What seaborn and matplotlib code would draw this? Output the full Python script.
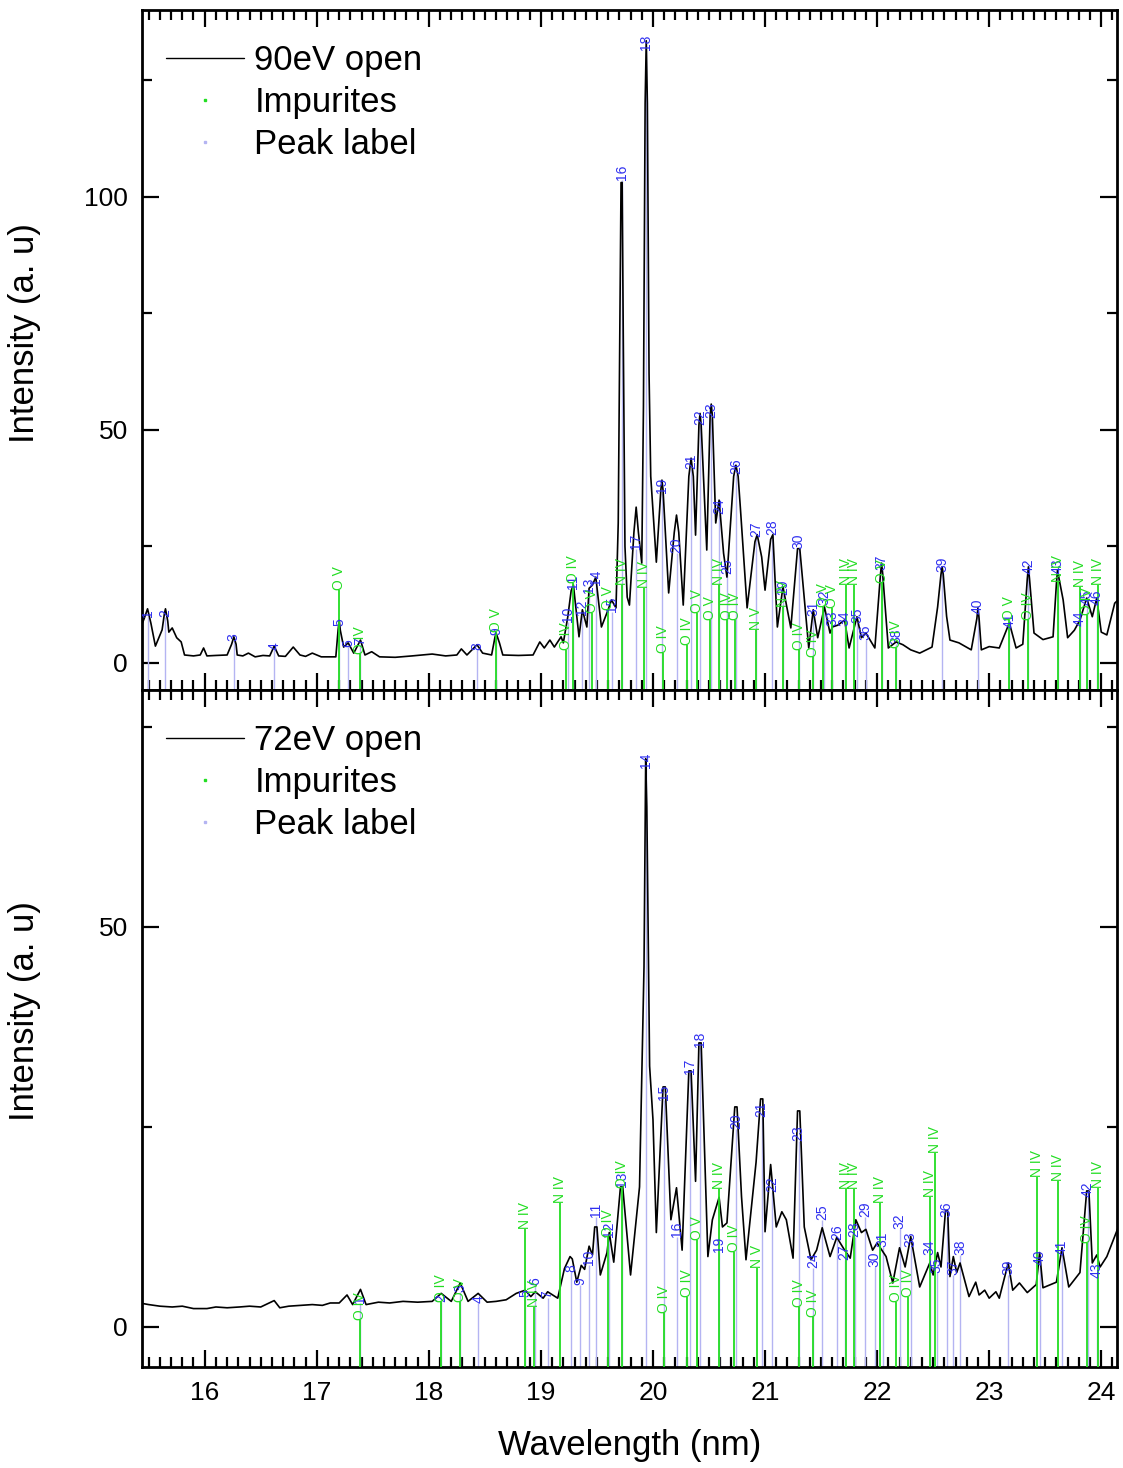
import numpy as np
import pandas as pd
import matplotlib
matplotlib.use("Agg")
import matplotlib.pyplot as plt
import seaborn as sns
from matplotlib.lines import Line2D
from matplotlib.ticker import MultipleLocator

# ---------------- data: 90 eV spectrum (top) ----------------
top_wl = [15.42, 15.46, 15.49, 15.52, 15.56, 15.62, 15.64, 15.65, 15.67, 15.68, 15.71, 15.75, 15.79, 15.82,
          15.90, 15.96, 15.99, 16.02, 16.10, 16.20, 16.24, 16.26, 16.28, 16.29, 16.34, 16.39, 16.45,
          16.52, 16.58, 16.62, 16.66, 16.72, 16.79, 16.85, 16.90, 16.96, 17.04, 17.17, 17.19, 17.20,
          17.21, 17.24, 17.28, 17.33, 17.39, 17.43, 17.49, 17.56, 17.70, 17.85, 18.03, 18.15, 18.25,
          18.29, 18.34, 18.43, 18.48, 18.56, 18.59, 18.60, 18.63, 18.66, 18.80, 18.93, 18.99, 19.03,
          19.08, 19.12, 19.18, 19.20, 19.24, 19.27, 19.29, 19.34, 19.37, 19.41, 19.43, 19.46, 19.49,
          19.54, 19.60, 19.63, 19.67, 19.69, 19.705, 19.715, 19.725, 19.735, 19.75, 19.77, 19.79, 19.83,
          19.85, 19.87, 19.90, 19.915, 19.93, 19.94, 19.95, 19.965, 19.98, 20.03, 20.07, 20.08, 20.09,
          20.14, 20.19, 20.21, 20.23, 20.27, 20.32, 20.34, 20.36, 20.38, 20.41, 20.42, 20.43, 20.48,
          20.51, 20.52, 20.53, 20.56, 20.59, 20.63, 20.66, 20.72, 20.74, 20.76, 20.78, 20.84, 20.91,
          20.93, 20.97, 21.00, 21.05, 21.07, 21.11, 21.16, 21.23, 21.29, 21.31, 21.39, 21.43, 21.47,
          21.53, 21.58, 21.60, 21.65, 21.71, 21.75, 21.82, 21.86, 21.90, 21.98, 22.03, 22.04, 22.05,
          22.10, 22.17, 22.23, 22.30, 22.38, 22.49, 22.54, 22.57, 22.58, 22.59, 22.62, 22.65, 22.73,
          22.84, 22.89, 22.90, 22.91, 22.93, 23.00, 23.09, 23.18, 23.24, 23.30, 23.34, 23.35, 23.36,
          23.40, 23.48, 23.57, 23.60, 23.61, 23.62, 23.66, 23.70, 23.76, 23.81, 23.87, 23.92, 23.96,
          24.00, 24.05, 24.12, 24.15]
top_int = [7.1, 9.5, 11.6, 8.5, 3.6, 7.1, 10.5, 11.6, 9.0, 6.6, 7.5, 5.4, 4.5, 1.7,
           1.5, 1.7, 3.2, 1.5, 1.6, 1.7, 4.0, 5.6, 4.0, 1.7, 1.5, 2.1, 1.3,
           1.6, 1.5, 3.6, 1.5, 1.4, 3.4, 1.7, 1.4, 2.1, 1.3, 1.3, 7.0, 9.2,
           7.0, 3.4, 4.3, 2.1, 4.9, 1.7, 2.4, 1.3, 1.2, 1.5, 1.9, 1.5, 1.7,
           3.0, 1.7, 3.9, 2.1, 1.7, 5.5, 6.4, 4.3, 1.7, 1.6, 1.7, 4.5, 3.2,
           4.9, 3.4, 5.6, 4.3, 9.9, 15.5, 16.7, 5.6, 11.4, 7.7, 16.0, 16.7, 18.4,
           7.7, 11.4, 13.5, 11.8, 30.0, 75.0, 103.0, 103.0, 70.0, 25.0, 14.1, 12.4, 28.0,
           33.4, 28.0, 21.4, 55.0, 120.0, 133.4, 120.0, 62.0, 40.0, 21.6, 37.0, 39.2, 37.0,
           15.0, 28.0, 31.7, 28.0, 12.4, 40.0, 43.9, 40.0, 27.4, 51.0, 53.5, 51.0, 24.2,
           53.0, 55.5, 53.0, 30.0, 34.9, 23.5, 18.4, 40.0, 42.4, 40.0, 33.2, 11.8, 26.0,
           27.5, 22.7, 15.6, 26.5, 27.5, 7.7, 16.3, 7.5, 24.5, 24.5, 3.2, 11.4, 5.4,
           12.0, 6.4, 7.7, 8.1, 9.2, 3.2, 9.9, 5.4, 6.4, 3.2, 19.0, 21.4, 19.0,
           3.2, 4.5, 3.9, 2.8, 2.1, 3.4, 12.0, 19.0, 20.6, 19.0, 10.0, 4.9, 4.3,
           2.8, 9.5, 11.8, 9.5, 2.8, 3.5, 3.2, 8.6, 3.2, 4.0, 18.0, 20.6, 18.0,
           6.4, 5.0, 5.6, 17.0, 20.0, 18.5, 13.5, 5.4, 7.0, 9.2, 13.9, 9.9, 13.9,
           6.6, 6.0, 12.8, 13.5]

top_peak_num = list(range(1, 47))
top_peak_wl = [15.49, 15.65, 16.26, 16.62, 17.20, 17.28, 17.39, 18.43, 18.60, 19.24, 19.29, 19.37,
               19.43, 19.49, 19.63, 19.72, 19.85, 19.94, 20.08, 20.21, 20.34, 20.42, 20.52, 20.59,
               20.66, 20.74, 20.92, 21.06, 21.16, 21.30, 21.43, 21.53, 21.60, 21.71, 21.82, 21.90,
               22.04, 22.17, 22.58, 22.90, 23.18, 23.35, 23.61, 23.81, 23.87, 23.96]
top_peak_int = [9.8, 9.8, 4.8, 2.8, 8.0, 3.5, 3.8, 2.8, 6.0, 8.8, 15.8, 10.2,
                15.0, 16.8, 11.0, 103.5, 24.5, 131.5, 36.5, 23.5, 41.5, 51.0, 52.5, 32.0,
                19.0, 40.5, 27.0, 27.5, 14.5, 24.5, 10.0, 12.5, 8.0, 8.0, 8.5, 5.0,
                20.0, 4.0, 19.5, 10.5, 7.5, 19.0, 19.0, 8.0, 12.5, 12.5]

top_imp_wl = [17.20, 17.39, 18.60, 19.22, 19.29, 19.46, 19.60, 19.72, 19.92, 20.09, 20.30, 20.39,
              20.51, 20.59, 20.66, 20.73, 20.92, 21.16, 21.30, 21.43, 21.52, 21.60, 21.72, 21.79,
              22.04, 22.17, 23.18, 23.35, 23.61, 23.81, 23.87, 23.97]
top_imp_int = [15.6, 2.0, 6.6, 2.8, 17.1, 10.7, 11.4, 16.7, 16.0, 2.1, 3.9, 10.7,
               9.2, 16.7, 9.2, 9.2, 7.0, 12.0, 2.8, 1.3, 12.0, 11.8, 16.7, 16.7,
               17.1, 3.2, 9.2, 9.2, 17.4, 16.3, 10.3, 16.7]
top_imp_lab = ["O V", "O IV", "O V", "O IV", "O IV", "O V", "O V", "N IV", "N IV", "O IV", "O IV", "O V",
               "O V", "N IV", "O IV", "O IV", "N V", "N IV", "O IV", "O IV", "O V", "O V", "N IV", "N IV",
               "O V", "O IV", "O V", "O IV", "N IV", "N IV", "O IV", "N IV"]

# ---------------- data: 72 eV spectrum (bottom) ----------------
bot_wl = [15.42, 15.50, 15.60, 15.71, 15.80, 15.90, 16.02, 16.10, 16.20, 16.31, 16.40, 16.50, 16.62,
          16.67, 16.75, 16.85, 16.96, 17.05, 17.12, 17.20, 17.27, 17.32, 17.39, 17.44, 17.55, 17.65,
          17.77, 17.90, 18.03, 18.11, 18.20, 18.28, 18.35, 18.44, 18.52, 18.60, 18.69, 18.78, 18.86,
          18.91, 18.95, 19.02, 19.06, 19.15, 19.21, 19.26, 19.28, 19.32, 19.36, 19.39, 19.43, 19.46,
          19.48, 19.50, 19.53, 19.59, 19.61, 19.65, 19.71, 19.73, 19.80, 19.88, 19.92, 19.935, 19.945,
          19.97, 20.00, 20.03, 20.09, 20.11, 20.16, 20.21, 20.26, 20.32, 20.34, 20.38, 20.41, 20.43,
          20.49, 20.53, 20.59, 20.62, 20.66, 20.73, 20.75, 20.79, 20.83, 20.92, 20.96, 20.98, 21.00,
          21.05, 21.10, 21.15, 21.19, 21.25, 21.29, 21.31, 21.35, 21.41, 21.46, 21.51, 21.58, 21.64,
          21.71, 21.76, 21.81, 21.86, 21.90, 21.96, 22.00, 22.08, 22.14, 22.20, 22.25, 22.30, 22.38,
          22.47, 22.50, 22.54, 22.57, 22.61, 22.63, 22.65, 22.68, 22.71, 22.74, 22.82, 22.88, 22.91,
          22.96, 23.00, 23.06, 23.09, 23.17, 23.21, 23.27, 23.34, 23.42, 23.45, 23.48, 23.60, 23.65,
          23.71, 23.81, 23.87, 23.89, 23.92, 23.96, 23.99, 24.05, 24.15]
bot_int = [3.0, 2.8, 2.6, 2.5, 2.6, 2.3, 2.3, 2.5, 2.4, 2.5, 2.6, 2.5, 3.3,
           2.4, 2.6, 2.7, 2.8, 2.7, 3.0, 3.0, 4.0, 2.8, 4.7, 2.8, 3.1, 3.0,
           3.2, 3.1, 3.2, 4.2, 3.2, 5.5, 3.2, 4.2, 3.1, 3.2, 3.4, 4.2, 4.6,
           3.8, 4.4, 3.6, 4.4, 3.6, 7.3, 8.8, 8.5, 5.6, 7.7, 7.2, 10.1, 9.0,
           12.5, 12.5, 6.5, 9.3, 11.8, 8.1, 17.5, 17.5, 6.5, 17.5, 45.0, 71.0, 65.0,
           32.6, 25.9, 11.8, 30.0, 30.0, 13.4, 17.4, 9.6, 32.0, 32.0, 18.2, 35.5, 35.5,
           8.8, 13.4, 16.2, 12.5, 13.0, 27.5, 27.5, 16.3, 8.4, 20.6, 28.5, 28.5, 11.9,
           20.3, 12.5, 14.4, 13.4, 8.6, 27.0, 27.0, 12.5, 8.4, 9.6, 12.4, 8.8, 11.2,
           9.6, 8.6, 13.4, 11.8, 12.2, 9.6, 10.5, 8.8, 5.5, 9.9, 7.5, 11.3, 5.0,
           8.0, 6.5, 9.3, 7.5, 14.5, 14.5, 6.3, 8.8, 6.8, 8.0, 3.8, 5.6, 4.0,
           4.6, 3.6, 4.4, 3.6, 8.0, 4.6, 5.5, 4.3, 5.3, 9.3, 4.9, 5.6, 9.9,
           5.0, 6.8, 17.0, 17.0, 8.0, 9.0, 7.5, 8.8, 12.4]

bot_peak_num = list(range(1, 44))
bot_peak_wl = [17.39, 18.11, 18.28, 18.44, 18.86, 18.95, 19.06, 19.27, 19.35, 19.43, 19.49, 19.61,
               19.72, 19.94, 20.10, 20.21, 20.33, 20.42, 20.59, 20.74, 20.97, 21.06, 21.30, 21.43,
               21.51, 21.64, 21.71, 21.80, 21.89, 21.98, 22.05, 22.20, 22.30, 22.47, 22.53, 22.62,
               22.68, 22.74, 23.17, 23.45, 23.65, 23.88, 23.96]
bot_peak_int = [3.0, 3.1, 4.4, 3.0, 3.8, 5.3, 3.6, 6.9, 5.3, 7.8, 13.7, 11.3,
                17.5, 69.8, 28.4, 11.2, 31.6, 35.0, 9.4, 24.7, 26.3, 16.9, 23.2, 7.4,
                13.4, 10.9, 8.4, 11.2, 13.7, 7.5, 10.0, 12.2, 10.0, 9.0, 6.8, 13.8,
                6.5, 9.0, 6.5, 7.8, 9.0, 16.3, 6.1]

bot_imp_wl = [17.39, 18.11, 18.28, 18.86, 18.94, 19.17, 19.60, 19.72, 20.10, 20.30, 20.39, 20.59,
              20.72, 20.93, 21.30, 21.43, 21.72, 21.79, 22.03, 22.17, 22.28, 22.47, 22.52, 23.43,
              23.61, 23.87, 23.97]
bot_imp_int = [0.9, 3.1, 3.1, 12.2, 2.5, 15.5, 11.2, 17.4, 1.8, 3.8, 10.9, 17.2,
               9.4, 7.4, 2.5, 1.3, 17.2, 17.2, 15.5, 3.1, 3.8, 16.3, 21.8, 18.8,
               18.2, 10.5, 17.4]
bot_imp_lab = ["O IV", "O IV", "O V", "N IV", "N IV", "N IV", "O IV", "O IV", "O IV", "O IV", "O V", "N IV",
               "O IV", "N V", "O IV", "O IV", "N IV", "N IV", "N IV", "O IV", "O IV", "N IV", "N IV", "N IV",
               "N IV", "O IV", "N IV"]

x_ticks = [16, 17, 18, 19, 20, 21, 22, 23, 24]

# ---------------- style ----------------
GREEN = "#22dd22"
BLUE = "#2f2ff0"
PEAK_LINE = "#b4b4f2"

sns.set_theme(style="ticks")
plt.rcParams['font.family'] = ['Liberation Sans', 'DejaVu Sans']
plt.rcParams.update({"text.color": "black", "axes.labelcolor": "black",
                     "xtick.color": "black", "ytick.color": "black",
                     "axes.edgecolor": "black"})

fig = plt.figure(figsize=(11.23, 14.68), dpi=100)
ax1 = fig.add_axes([0.1264, 0.5300, 0.8682, 0.4632])
ax2 = fig.add_axes([0.1264, 0.0688, 0.8682, 0.4612], sharex=ax1)


def draw(ax, wl, inten, pk_wl, pk_int, pk_num, imp_wl, imp_int, imp_lab, ylim, name):
    ymin, ymax = ylim
    ax.vlines(pk_wl, ymin, pk_int, colors=PEAK_LINE, lw=1.0, zorder=1)
    df = pd.DataFrame({"wl": wl, "I": inten})
    sns.lineplot(data=df, x="wl", y="I", ax=ax, color="black", lw=1.2,
                 estimator=None, sort=False, zorder=2, legend=False,
                 solid_joinstyle="round")
    ax.vlines(imp_wl, ymin, imp_int, colors=GREEN, lw=1.3, zorder=3)
    for x, y, n in zip(pk_wl, pk_int, pk_num):
        ax.text(x, y, str(n), rotation=90, ha="center", va="bottom",
                color=BLUE, fontsize=10, zorder=4)
    for x, y, s in zip(imp_wl, imp_int, imp_lab):
        ax.text(x, y, s, rotation=90, ha="center", va="bottom",
                color=GREEN, fontsize=10, zorder=4)
    ax.set_ylim(ymin, ymax)
    ax.set_xlim(15.44, 24.14)
    ax.set_xticks(x_ticks)
    ax.xaxis.set_minor_locator(MultipleLocator(0.1))
    ax.yaxis.set_major_locator(MultipleLocator(50))
    ax.yaxis.set_minor_locator(MultipleLocator(25))
    ax.tick_params(which="both", direction="in", top=True, right=True, width=1.6,
                   labelsize=19, pad=10, color="black", labelcolor="black")
    ax.tick_params(which="major", length=12)
    ax.tick_params(which="minor", length=7)
    for sp in ax.spines.values():
        sp.set_linewidth(2.0)
        sp.set_color("black")
        sp.set_visible(True)
    ax.set_ylabel("Intensity (a. u)", fontsize=25, color="black")
    ax.yaxis.set_label_coords(-0.104, 0.525)
    handles = [Line2D([], [], color="black", lw=1.0),
               Line2D([], [], color=GREEN, marker="s", markersize=1.5, linestyle="None"),
               Line2D([], [], color=PEAK_LINE, marker="s", markersize=1.5, linestyle="None")]
    ax.legend(handles, [name, "Impurites", "Peak label"], loc="upper left",
              bbox_to_anchor=(0.0, 0.986), frameon=False, fontsize=25,
              handlelength=2.25, handletextpad=0.29, labelspacing=0.26,
              borderaxespad=0.3, borderpad=0.4, labelcolor="black")


draw(ax1, top_wl, top_int, top_peak_wl, top_peak_int, top_peak_num,
     top_imp_wl, top_imp_int, top_imp_lab, (-5.8, 140), "90eV open")
draw(ax2, bot_wl, bot_int, bot_peak_wl, bot_peak_int, bot_peak_num,
     bot_imp_wl, bot_imp_int, bot_imp_lab, (-5.0, 79.6), "72eV open")

ax1.tick_params(labelbottom=False)
ax1.set_xlabel("")
ax2.set_xlabel("Wavelength (nm)", fontsize=25, color="black")
ax2.xaxis.set_label_coords(0.5, -0.092)

fig.savefig("out.png", dpi=100)
